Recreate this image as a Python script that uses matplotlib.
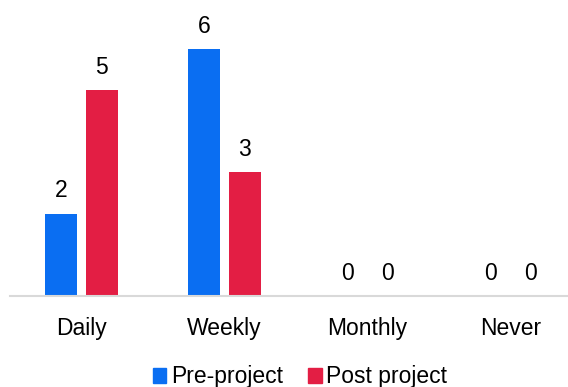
import matplotlib.pyplot as plt
import numpy as np
from matplotlib.patches import Patch

plt.rcParams['font.family'] = ['Liberation Sans', 'DejaVu Sans']

categories = ["Daily", "Weekly", "Monthly", "Never"]
pre_project = [2, 6, 0, 0]
post_project = [5, 3, 0, 0]

blue = '#0A6EF2'
red = '#E31E44'

fig = plt.figure(figsize=(5.68, 3.87), dpi=100)
ax = fig.add_axes([10 / 568, 91 / 387, 558 / 568, 296 / 387])

x = np.arange(len(categories))
w = 0.224
b1 = ax.bar(x - 0.142, pre_project, w, color=blue)
b2 = ax.bar(x + 0.142, post_project, w, color=red)
ax.bar_label(b1, padding=8, fontsize=16.5)
ax.bar_label(b2, padding=8, fontsize=16.5)

ax.set_xlim(-0.5, -0.5 + 558 / 143)
ax.set_ylim(0, 7.18)
ax.set_xticks(x)
ax.set_xticklabels(categories, fontsize=16.5)
ax.tick_params(axis='x', length=0, pad=15)
ax.set_yticks([])
for s in ['top', 'right', 'left']:
    ax.spines[s].set_visible(False)
ax.spines['bottom'].set_color('#d9d9d9')
ax.spines['bottom'].set_linewidth(1.5)

handles = [Patch(color=blue, label='Pre-project'), Patch(color=red, label='Post project')]
fig.legend(handles=handles, loc='center', bbox_to_anchor=(300 / 568, 1 - 377 / 387),
           ncol=2, frameon=False, fontsize=16.5, handlelength=0.6, handleheight=0.6,
           handletextpad=0.2, columnspacing=1.1)

fig.savefig("out.png", dpi=100)
